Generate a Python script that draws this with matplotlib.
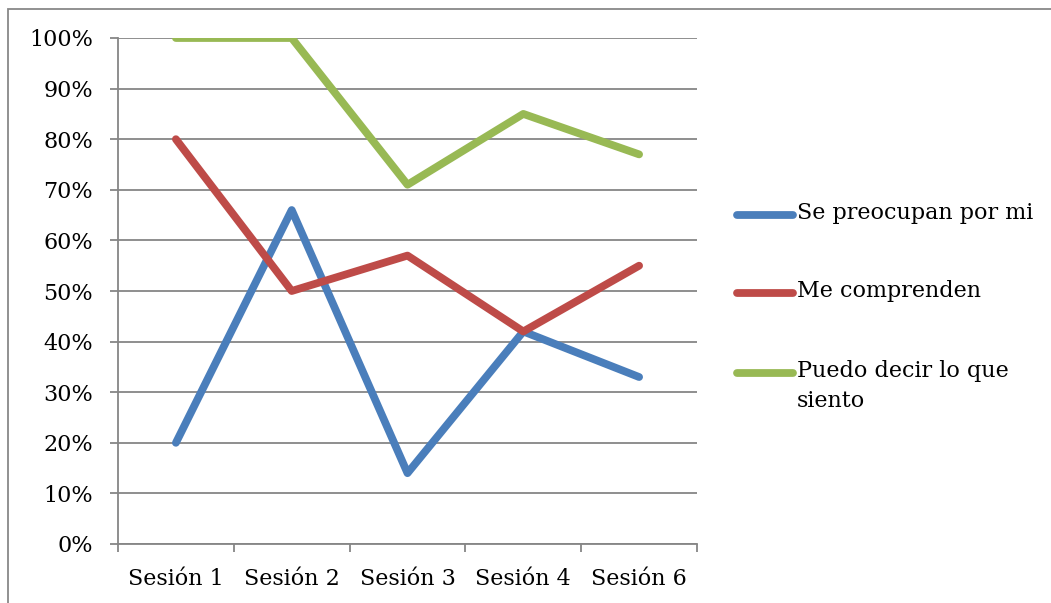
import matplotlib
matplotlib.use("Agg")
import matplotlib.pyplot as plt
from matplotlib.lines import Line2D
from matplotlib.patches import Rectangle
from matplotlib.ticker import PercentFormatter, FixedLocator

# data
sessions = ["Sesión 1", "Sesión 2", "Sesión 3", "Sesión 4", "Sesión 6"]
se_preocupan = [20, 66, 14, 42, 33]
me_comprenden = [80, 50, 57, 42, 55]
puedo_decir = [100, 100, 71, 85, 77]
series_names = ["Se preocupan por mi", "Me comprenden", "Puedo decir lo que\nsiento"]
series_colors = ["#4A7EBB", "#BE4B48", "#98B954"]

W, H = 1051, 603
plt.rcParams['font.family'] = ['DejaVu Serif']
fig = plt.figure(figsize=(W / 100, H / 100), dpi=100)
ax = fig.add_axes([118 / W, 1 - 544 / H, (697 - 118) / W, (544 - 38) / H])

x = range(len(sessions))
for vals, color in zip([se_preocupan, me_comprenden, puedo_decir], series_colors):
    ax.plot(x, vals, color=color, lw=5.6, solid_capstyle='round',
            solid_joinstyle='round', zorder=3)

ax.set_xlim(-0.5, len(sessions) - 0.5)
ax.set_ylim(0, 100)
ax.set_yticks(range(0, 101, 10))
ax.yaxis.set_major_formatter(PercentFormatter(decimals=0))
ax.set_xticks(list(x))
ax.set_xticklabels(sessions)
ax.xaxis.set_minor_locator(FixedLocator([i - 0.5 for i in range(len(sessions) + 1)]))

ax.grid(axis='y', color='#868686', lw=1.3)
ax.set_axisbelow(True)
for s in ['top', 'right']:
    ax.spines[s].set_visible(False)
for s in ['left', 'bottom']:
    ax.spines[s].set_color('#868686')
    ax.spines[s].set_linewidth(1.3)

ax.tick_params(axis='y', length=6, width=1.3, color='#868686', pad=12, labelsize=16)
ax.tick_params(axis='x', which='major', length=0, pad=17, labelsize=16)
ax.tick_params(axis='x', which='minor', length=5.5, width=1.3, color='#868686')

# legend drawn by hand so the handle sits on the first text line
leg_y = [215, 293, 373]
for name, color, yy in zip(series_names, series_colors, leg_y):
    fig.add_artist(Line2D([737 / W, 793 / W], [1 - yy / H, 1 - yy / H], color=color,
                          lw=5.6, solid_capstyle='round'))
    fig.text(797 / W, 1 - (yy - 13) / H, name, fontsize=16, va='top', ha='left',
             linespacing=1.45)

# outer chart frame (cut at right and bottom)
fig.add_artist(Rectangle((8 / W, -0.1), 1.2, 1 - 9 / H + 0.1, transform=fig.transFigure,
                         fill=False, edgecolor='#888888', lw=1.3, clip_on=False))

fig.savefig("out.png", dpi=100)
